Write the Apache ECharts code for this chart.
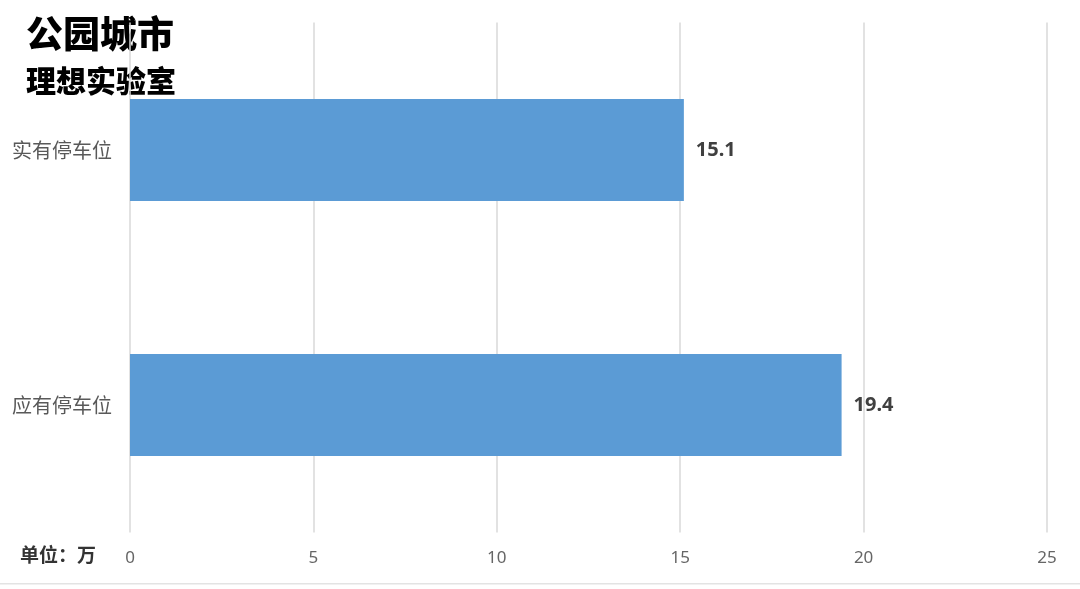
<!DOCTYPE html>
<html><head><meta charset="utf-8">
<script src="https://cdn.jsdelivr.net/npm/echarts@6/dist/echarts.min.js"></script>
<style>html,body{margin:0;padding:0;background:#fff}#c{width:1080px;height:589px}</style>
</head><body><div id="c"></div>
<script>
const categories = ['应有停车位', '实有停车位'];
const values = [19.4, 15.1];
const xTicks = [0, 5, 10, 15, 20, 25];
const titleMain = '公园城市';
const titleSub = '理想实验室';
const unitText = '单位：万';

const chart = echarts.init(document.getElementById('c'));
chart.setOption({
  backgroundColor: '#fff',
  animation: false,
  grid: { left: 130, right: 33, top: 22.5, bottom: 56.5, containLabel: false },
  xAxis: {
    type: 'value', min: xTicks[0], max: xTicks[xTicks.length - 1], interval: 5,
    axisLine: { show: false }, axisTick: { show: false },
    axisLabel: { color: '#666', fontSize: 17, margin: 17, fontFamily: 'Noto Sans' },
    splitLine: { show: true, lineStyle: { color: '#d9d9d9', width: 1.5 } }
  },
  yAxis: {
    type: 'category', data: categories,
    axisLine: { show: false }, axisTick: { show: false },
    axisLabel: { color: '#595959', fontSize: 20, margin: 18, fontFamily: 'Noto Sans CJK SC' }
  },
  series: [{
    type: 'bar', data: values, barWidth: '40%',
    itemStyle: { color: '#5b9bd5' },
    label: { show: true, position: 'right', distance: 12, color: '#404040', fontSize: 20, fontWeight: 'bold', fontFamily: 'Noto Sans' }
  }],
  graphic: [
    { type: 'text', left: 26, top: 15, style: { text: titleMain, fill: '#000', font: '900 37px "Noto Sans CJK SC"' } },
    { type: 'text', left: 26, top: 66, style: { text: titleSub, fill: '#000', font: '900 30px "Noto Sans CJK SC"' } },
    { type: 'text', left: 20, top: 545, style: { text: unitText, fill: '#333', font: 'bold 19px "Noto Sans CJK SC"' } },
    { type: 'rect', shape: { x: 0, y: 583, width: 1080, height: 1.5 }, style: { fill: '#e3e3e3' } }
  ]
});
</script></body></html>
